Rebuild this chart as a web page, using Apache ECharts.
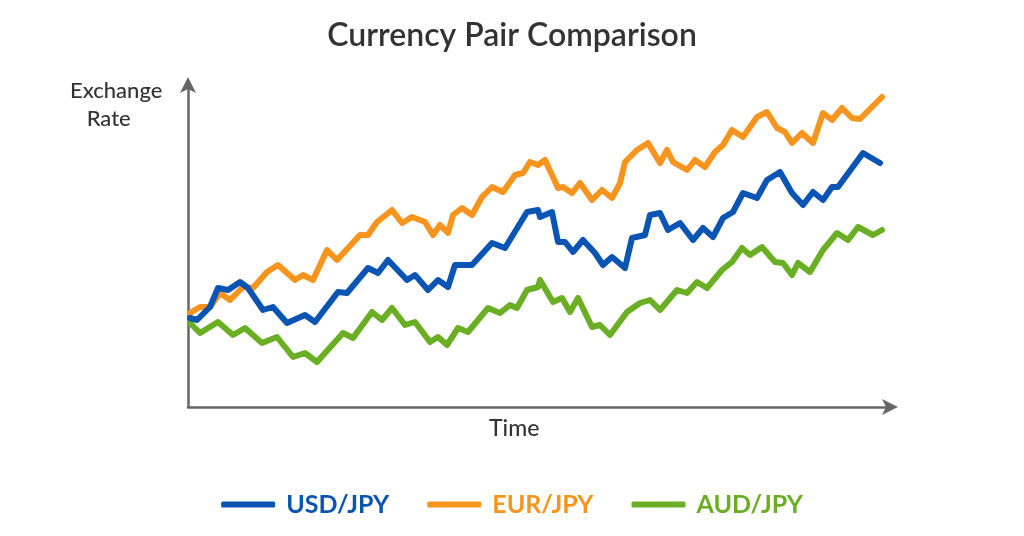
<!DOCTYPE html>
<html><head><meta charset="utf-8">
<script src="https://cdn.jsdelivr.net/npm/echarts@6/dist/echarts.min.js"></script>
<style>html,body{margin:0;padding:0;background:#fff}#c{width:1024px;height:536px}</style>
</head><body><div id="c"></div>
<script>
// time steps and rate levels (arbitrary units)
const usdT=[2,9,22,30,40,52,60,75,85,99,117,127,150,159,180,190,200,219,227,240,250,260,267,284,304,317,339,350,352,364,370,377,385,395,407,415,424,437,444,457,462,472,480,492,505,515,525,535,545,555,569,579,592,604,615,625,635,644,650,664,675,692];
const usdV=[89,87,100,119,117,125,119,97,100,84,92,85,115,114,139,134,147,127,132,117,127,120,142,142,164,159,195,197,190,195,165,165,155,167,154,142,150,139,169,172,192,194,177,184,167,179,170,189,195,214,209,227,235,214,202,215,207,220,220,239,254,244,265].slice(0,62);
const eurT=[2,12,22,32,42,55,65,79,90,107,115,125,139,149,172,180,189,204,214,224,237,245,252,260,265,274,284,294,304,315,327,335,342,350,357,370,375,384,392,404,414,424,432,437,449,460,472,479,485,499,507,517,527,535,544,555,569,579,589,597,604,614,625,635,644,654,664,672,694];
const eurV=[94,100,100,114,107,120,119,135,142,127,132,127,157,147,172,172,185,197,184,190,185,172,182,174,192,199,192,210,220,215,232,234,245,242,247,219,220,214,224,207,217,209,224,245,257,264,244,257,245,237,247,240,255,262,277,270,290,295,279,275,264,274,264,294,287,299,289,288,310];
const audT=[2,12,30,45,57,74,89,105,117,129,155,165,184,194,204,217,227,242,250,259,270,280,300,312,322,329,339,350,352,365,374,382,390,404,412,422,439,452,462,472,489,499,509,519,534,544,554,562,574,587,595,604,610,622,635,649,660,670,685,694];
const audV=[84,74,85,72,79,64,70,50,54,45,74,69,95,87,99,82,85,65,70,62,79,75,99,94,102,99,117,120,127,105,109,95,109,80,82,72,95,104,107,97,117,114,125,119,137,145,159,152,160,145,144,132,144,135,157,174,167,180,172,177];
const seriesNames=['USD/JPY','EUR/JPY','AUD/JPY'];
const colors=['#0a54b4','#f7941d','#6aae23'];
const pairs=(t,v)=>t.map((x,i)=>[x,v[i]]);
const data=[pairs(usdT,usdV),pairs(eurT,eurV),pairs(audT,audV)];
const font='Lato, "Open Sans", sans-serif';
const chart=echarts.init(document.getElementById('c'));
chart.setOption({
  animation:false,
  title:{text:'Currency Pair Comparison',left:'center',top:15,textStyle:{fontFamily:font,fontSize:32,fontWeight:600,color:'#333'}},
  grid:{left:188,right:134,top:85,bottom:129},
  xAxis:{type:'value',min:0,max:702,axisLine:{show:true,lineStyle:{color:'#666',width:2.5},symbol:['none','arrow'],symbolSize:[12,16],symbolOffset:[0,8]},axisTick:{show:false},axisLabel:{show:false},splitLine:{show:false}},
  yAxis:{type:'value',min:0,max:322,axisLine:{show:true,lineStyle:{color:'#666',width:2.5},symbol:['none','arrow'],symbolSize:[12,16],symbolOffset:[0,8]},axisTick:{show:false},axisLabel:{show:false},splitLine:{show:false}},
  legend:{bottom:14,left:'center',itemWidth:54,itemHeight:6,itemGap:38,icon:'roundRect',
    data:seriesNames.map((n,i)=>({name:n,textStyle:{color:colors[i]}})),
    textStyle:{fontFamily:font,fontSize:25,fontWeight:'bold',padding:[0,0,0,6]}},
  graphic:[
    {type:'text',left:70,top:77,style:{text:'Exchange\n   Rate',fontFamily:font,fontSize:22,fontWeight:500,lineHeight:28,fill:'#333'}},
    {type:'text',left:489,top:417,style:{text:'Time',fontFamily:font,fontSize:23,fontWeight:500,fill:'#333'}}
  ],
  series:seriesNames.map((n,i)=>({name:n,type:'line',data:data[i],showSymbol:false,color:colors[i],lineStyle:{width:6,color:colors[i],cap:'round',join:'round'},z:3-i}))
});
</script></body></html>
